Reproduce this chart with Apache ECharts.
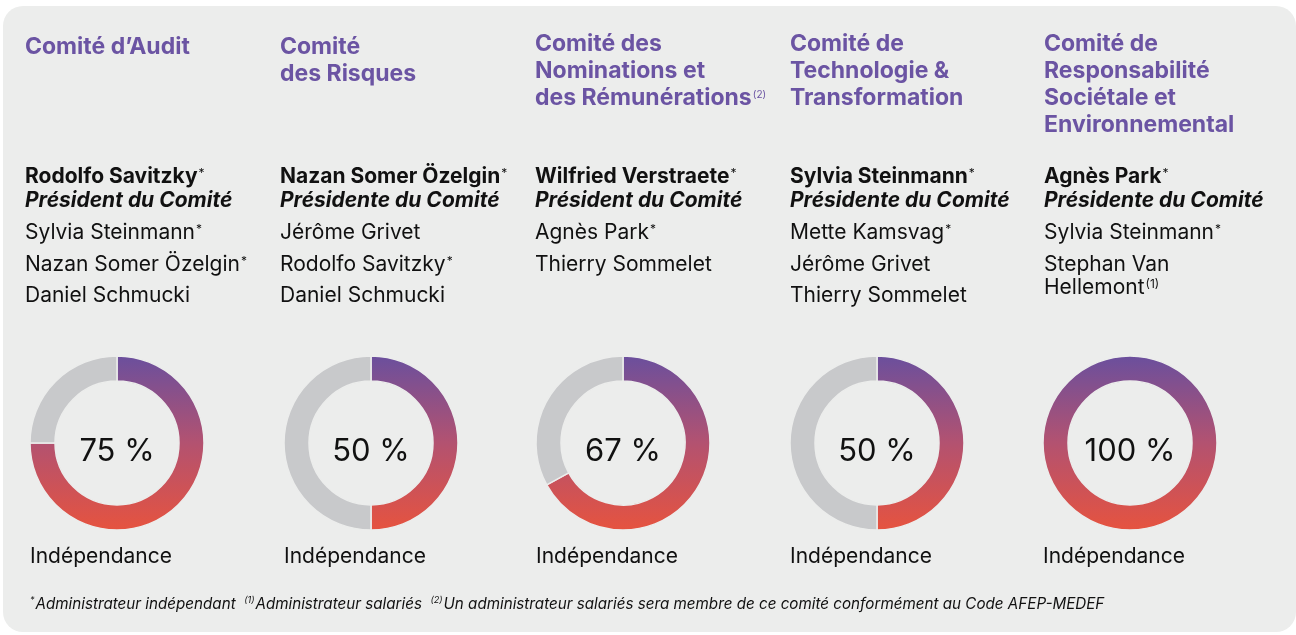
<!DOCTYPE html>
<html>
<head>
<meta charset="utf-8">
<script src="https://cdn.jsdelivr.net/npm/echarts@6/dist/echarts.min.js"></script>
<style>
html, body { margin: 0; padding: 0; background: #fff; }
#main { width: 1296px; height: 635px; }
</style>
</head>
<body>
<div id="main"></div>
<script>
// committees, people and independence rates
var committeeTitles = [
	['Comité d\u2019Audit'],
	['Comité', 'des Risques'],
	['Comité des', 'Nominations et', 'des Rémunérations(2)'],
	['Comité de', 'Technologie &', 'Transformation'],
	['Comité de', 'Responsabilité', 'Sociétale et', 'Environnemental']
];
var presidents = ['Rodolfo Savitzky*', 'Nazan Somer Özelgin*', 'Wilfried Verstraete*', 'Sylvia Steinmann*', 'Agnès Park*'];
var roles = ['Président du Comité', 'Présidente du Comité', 'Président du Comité', 'Présidente du Comité', 'Présidente du Comité'];
var members = [
	['Sylvia Steinmann*', 'Nazan Somer Özelgin*', 'Daniel Schmucki'],
	['Jérôme Grivet', 'Rodolfo Savitzky*', 'Daniel Schmucki'],
	['Agnès Park*', 'Thierry Sommelet'],
	['Mette Kamsvag*', 'Jérôme Grivet', 'Thierry Sommelet'],
	['Sylvia Steinmann*', 'Stephan Van\nHellemont(1)']
];
var independence = [75, 50, 67, 50, 100];
var metricName = 'Indépendance';
var footnoteMarks = ['*', '(1)', '(2)'];
var footnoteTexts = ['Administrateur indépendant', 'Administrateur salariés', 'Un administrateur salariés sera membre de ce comité conformément au Code AFEP-MEDEF'];

var FONT = 'Inter, "Noto Sans", sans-serif';
var colLeft = [25, 280, 535, 790, 1044];
var titleTop = [34, 34, 31, 31, 31];
var donutX = [117, 371, 623, 877, 1130];
var donutY = 443;

var chart = echarts.init(document.getElementById('main'));

// put a trailing "*" or "(n)" as superscript
function sup(str, base) {
	return str.split('\n').map(function(line) {
		var m = line.match(/^(.*?)(\*|\(\d\))$/);
		if(m) {
			return '{' + base + '|' + m[1] + '}{sup|' + m[2] + '}';
		}
		return '{' + base + '|' + line + '}';
	}).join('\n');
}

var supStyle = {
	fontFamily: FONT,
	fontSize: 12,
	fontWeight: 400,
	color: '#111',
	verticalAlign: 'top',
	padding: [2, 0, 0, 1]
};

var titles = [];
for(var i = 0; i < 5; i++) {
	titles.push({
		left: colLeft[i],
		top: titleTop[i],
		padding: 0,
		text: sup(committeeTitles[i].join('\n'), 't'),
		textStyle: {
			rich: {
				t: { fontFamily: FONT, fontSize: 23, fontWeight: 700, color: '#6b54a3', lineHeight: 26.8 },
				sup: { fontFamily: FONT, fontSize: 10, fontWeight: 400, color: '#6b54a3', verticalAlign: 'top', padding: [5, 0, 0, 1] }
			}
		}
	});
	titles.push({
		left: colLeft[i],
		top: 177 - 12,
		padding: 0,
		text: sup(presidents[i], 'b'),
		textStyle: {
			rich: {
				b: { fontFamily: FONT, fontSize: 21, fontWeight: 700, color: '#111', lineHeight: 24 },
				sup: supStyle
			}
		}
	});
	titles.push({
		left: colLeft[i],
		top: 201 - 12,
		padding: 0,
		text: roles[i],
		textStyle: { fontFamily: FONT, fontSize: 21, fontWeight: 700, fontStyle: 'italic', color: '#111', lineHeight: 24 }
	});
	for(var j = 0; j < members[i].length; j++) {
		titles.push({
			left: colLeft[i],
			top: 233 + j * 31.5 - 11.5,
			padding: 0,
			text: sup(members[i][j], 'r'),
			textStyle: {
				rich: {
					r: { fontFamily: FONT, fontSize: 21, fontWeight: 400, color: '#111', lineHeight: 23 },
					sup: supStyle
				}
			}
		});
	}
	titles.push({
		left: donutX[i] - 87,
		top: 557 - 12,
		padding: 0,
		text: metricName,
		textStyle: { fontFamily: FONT, fontSize: 21, fontWeight: 400, color: '#111', lineHeight: 24 }
	});
}

var foot = '';
for(var k = 0; k < footnoteMarks.length; k++) {
	foot += '{m|' + footnoteMarks[k] + '}{f|' + footnoteTexts[k] + (k < footnoteMarks.length - 1 ? '  ' : '') + '}';
}
titles.push({
	left: 30,
	top: 604 - 10,
	padding: 0,
	text: foot,
	textStyle: {
		fontWeight: 400,
		rich: {
			f: { fontFamily: FONT, fontSize: 15.2, fontWeight: 400, fontStyle: 'italic', color: '#111', lineHeight: 20 },
			m: { fontFamily: FONT, fontSize: 9, fontWeight: 400, fontStyle: 'italic', color: '#111', verticalAlign: 'top', padding: [2, 1, 0, 0] }
		}
	}
});

var ringColor = new echarts.graphic.LinearGradient(0, 0, 0, 1, [
	{ offset: 0, color: '#6a4f9d' },
	{ offset: 0.5, color: '#b35270' },
	{ offset: 1, color: '#e6533f' }
]);

var series = independence.map(function(v, i) {
	var data = [{
		value: v,
		itemStyle: { color: ringColor },
		label: {
			show: true,
			position: 'center',
			formatter: '{c} %',
			fontFamily: FONT,
			fontSize: 31,
			fontWeight: 400,
			color: '#111',
			offset: [0, 9]
		}
	}];
	if(100 - v > 0) {
		data.push({ value: 100 - v, itemStyle: { color: '#c8c9cb' }, label: { show: false } });
	}
	return {
		type: 'pie',
		center: [donutX[i], donutY],
		radius: [62, 87],
		startAngle: 90,
		clockwise: true,
		silent: true,
		labelLine: { show: false },
		itemStyle: { borderColor: '#ecedec', borderWidth: 1.5 },
		emphasis: { disabled: true },
		data: data
	};
});

chart.setOption({
	animation: false,
	graphic: [{
		type: 'rect',
		z: -10,
		shape: { x: 3, y: 6, width: 1293, height: 626, r: 20 },
		style: { fill: '#ecedec' }
	}],
	title: titles,
	series: series
});
</script>
</body>
</html>
